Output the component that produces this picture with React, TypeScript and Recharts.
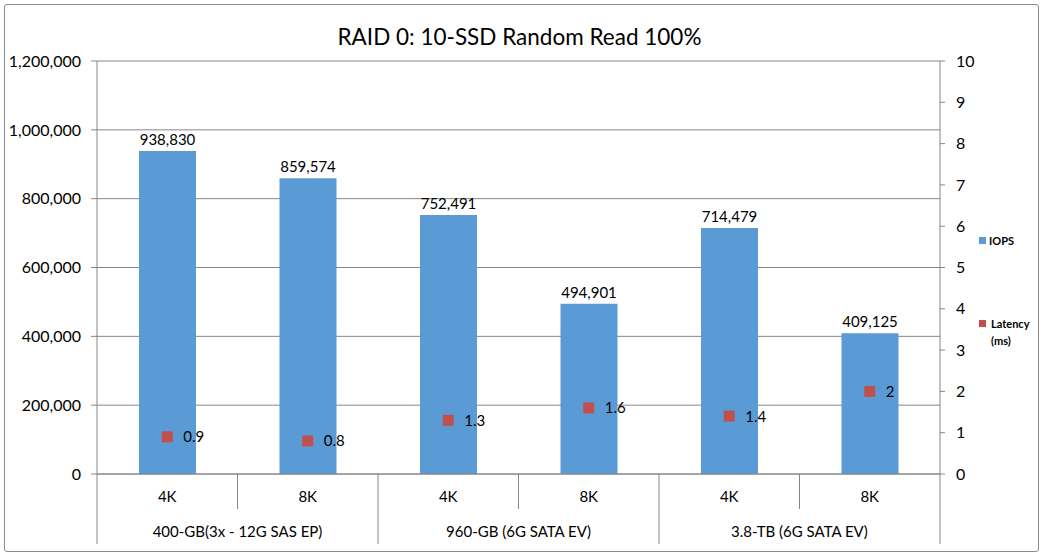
import React from 'react';
import { ComposedChart, Bar, Line, XAxis, YAxis, CartesianGrid, LabelList } from 'recharts';

const sizes = ['4K', '8K', '4K', '8K', '4K', '8K'];
const groups = ['400-GB(3x - 12G SAS EP)', '960-GB (6G SATA EV)', '3.8-TB (6G SATA EV)'];
const iops = [938830, 859574, 752491, 494901, 714479, 409125];
const latency = [0.9, 0.8, 1.3, 1.6, 1.4, 2];
const leftTicks = [0, 200000, 400000, 600000, 800000, 1000000, 1200000];
const rightTicks = [0, 1, 2, 3, 4, 5, 6, 7, 8, 9, 10];

const data = sizes.map((s, i) => ({ name: s, key: i, iops: iops[i], latency: latency[i] }));

const FONT = 'Lato, "Open Sans", sans-serif';
const AXIS = '#868686';
const BLUE = '#5B9BD5';
const RED = '#C0504D';
const W = 1043;
const H = 554;
const LEFT_W = 97;
const RIGHT_W = 103;
const BAND = (W - LEFT_W - RIGHT_W) / sizes.length;

const fmt = (v: number) => v.toLocaleString('en-US');

function CategoryTick(props: any) {
  const { x, y, payload, index } = props;
  const half = BAND / 2;
  const groupStart = index % 2 === 0;
  return (
    <g>
      <line x1={x - half} x2={x - half} y1={y} y2={y + (groupStart ? 70 : 35)} stroke={AXIS} />
      {index === sizes.length - 1 && (
        <line x1={x + half} x2={x + half} y1={y} y2={y + 70} stroke={AXIS} />
      )}
      <text x={x} y={y + 24} textAnchor="middle" dominantBaseline="middle" fontSize={15} fill="#000" fontFamily={FONT}>
        {payload.value}
      </text>
      {groupStart && (
        <text x={x + half} y={y + 59} textAnchor="middle" dominantBaseline="middle" fontSize={15} fill="#000" fontFamily={FONT}>
          {groups[index / 2]}
        </text>
      )}
    </g>
  );
}

function SquareDot(props: any) {
  const { cx, cy } = props;
  if (cx == null || cy == null) return null;
  return <rect x={cx - 5.5} y={cy - 5.5} width={11} height={11} fill={RED} />;
}

export default function App() {
  return (
    <div style={{ position: 'absolute', left: 0, top: 0, width: W, height: H, background: '#fff', fontFamily: FONT }}>
      <div style={{ position: 'absolute', left: 4, top: 4, width: 1033, height: 546, border: '1px solid #8c8c8c', borderRadius: 3 }} />
      <div style={{ position: 'absolute', left: 0, top: 23, width: W - 4, textAlign: 'center', fontSize: 22.5, color: '#000' }}>
        RAID 0: 10-SSD Random Read 100%
      </div>
      <ComposedChart width={W} height={H} data={data} margin={{ top: 61, right: 0, bottom: 0, left: 0 }}>
        <CartesianGrid yAxisId="left" vertical={false} stroke={AXIS} />
        <XAxis
          dataKey="name"
          interval={0}
          height={80}
          tickSize={0}
          tickMargin={0}
          stroke={AXIS}
          tick={<CategoryTick />}
        />
        <YAxis
          yAxisId="left"
          width={LEFT_W}
          domain={[0, 1200000]}
          ticks={leftTicks}
          tickFormatter={fmt}
          tickSize={6}
          tickMargin={10}
          stroke={AXIS}
          tick={{ fill: '#000', fontSize: 16, fontFamily: FONT }}
        />
        <YAxis
          yAxisId="right"
          orientation="right"
          width={RIGHT_W}
          domain={[0, 10]}
          ticks={rightTicks}
          tickSize={5}
          tickMargin={11}
          stroke={AXIS}
          tick={{ fill: '#000', fontSize: 16, fontFamily: FONT }}
        />
        <Bar yAxisId="left" dataKey="iops" fill={BLUE} barSize={57} isAnimationActive={false}>
          <LabelList dataKey="iops" position="top" offset={6} formatter={(v: any) => fmt(Number(v))} fill="#000" fontSize={15} fontFamily={FONT} />
        </Bar>
        <Line
          yAxisId="right"
          dataKey="latency"
          stroke="none"
          dot={<SquareDot />}
          activeDot={false}
          isAnimationActive={false}
        >
          <LabelList dataKey="latency" position="right" offset={16} fill="#000" fontSize={15} fontFamily={FONT} />
        </Line>
      </ComposedChart>
      <div style={{ position: 'absolute', left: 979, top: 232, fontSize: 11, fontWeight: 'bold', color: '#000', lineHeight: '17px' }}>
        <div style={{ display: 'flex', alignItems: 'center' }}>
          <span style={{ display: 'inline-block', width: 7, height: 7, background: BLUE, marginRight: 3 }} />
          IOPS
        </div>
        <div style={{ display: 'flex', alignItems: 'flex-start', marginTop: 66 }}>
          <span style={{ display: 'inline-block', width: 7, height: 7, background: RED, marginRight: 5, marginTop: 5 }} />
          <span>Latency<br />(ms)</span>
        </div>
      </div>
    </div>
  );
}
